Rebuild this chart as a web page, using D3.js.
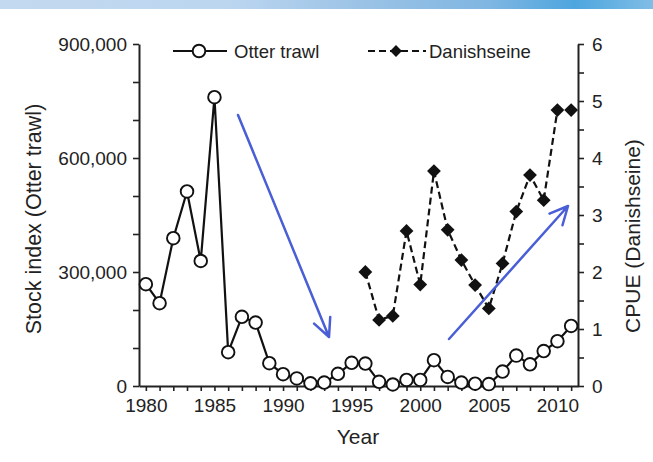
<!DOCTYPE html>
<html>

<head>
  <meta charset="utf-8">
  <script src="https://d3js.org/d3.v7.min.js"></script>
  <style>
    body { margin: 0; background: #fff; }
    svg { display: block; font-family: "Liberation Sans", Arial, sans-serif; }
  </style>
</head>

<body>
  <svg width="653" height="462"></svg>
  <script>
    // data
    const years = d3.range(1980, 2012);
    const otterTrawl = [268000, 218000, 389000, 512000, 329000, 760000, 89000, 182000, 167000, 60000,
      31000, 20000, 7000, 9000, 32000, 61000, 59000, 11000, 4000, 16000,
      16000, 68000, 24000, 9000, 6000, 5000, 38000, 80000, 57000, 92000,
      118000, 158000];
    const seineYears = d3.range(1996, 2012);
    const danishSeine = [2.0, 1.16, 1.23, 2.72, 1.78, 3.77, 2.74, 2.21, 1.77, 1.36, 2.15, 3.06, 3.7, 3.26, 4.84, 4.84];
    const leftTicks = [0, 300000, 600000, 900000];
    const rightTicks = [0, 1, 2, 3, 4, 5, 6];
    const xTickLabels = [1980, 1985, 1990, 1995, 2000, 2005, 2010];

    const svg = d3.select("svg");

    // blue strip at the top of the slide
    const grad = svg.append("defs").append("linearGradient").attr("id", "band");
    [["0%", "#c3d9ef"], ["35%", "#bcd6f0"], ["55%", "#9cc3e6"], ["75%", "#7fb6e2"], ["88%", "#4ea6df"], ["100%", "#80bde6"]]
      .forEach(s => grad.append("stop").attr("offset", s[0]).attr("stop-color", s[1]));
    svg.append("rect").attr("x", 0).attr("y", 0).attr("width", 653).attr("height", 9).attr("fill", "url(#band)");

    const x = d3.scaleLinear().domain([1979.5, 2011.5]).range([139, 578]);
    const yL = d3.scaleLinear().domain([0, 900000]).range([386, 44]);
    const yR = d3.scaleLinear().domain([0, 6]).range([386, 44]);

    const fmt = d3.format(",");

    // axes
    const gx = svg.append("g").attr("transform", "translate(0,386)")
      .call(d3.axisBottom(x).tickValues(years).tickSize(5).tickSizeOuter(0)
        .tickFormat(d => xTickLabels.includes(d) ? d : ""));
    const gl = svg.append("g").attr("transform", "translate(139,0)")
      .call(d3.axisLeft(yL).tickValues(d3.range(0, 900001, 100000)).tickSize(6).tickSizeOuter(0)
        .tickFormat(d => leftTicks.includes(d) ? fmt(d) : ""));
    const gr = svg.append("g").attr("transform", "translate(578,0)")
      .call(d3.axisRight(yR).tickValues(d3.range(0, 6.01, 0.5)).tickSize(6).tickSizeOuter(0)
        .tickFormat(d => rightTicks.includes(d) ? d : ""));

    [gx, gl, gr].forEach(g => {
      g.select(".domain").attr("stroke", "#222").attr("stroke-width", 2);
      g.selectAll(".tick line").attr("stroke", "#222").attr("stroke-width", 1.6);
      g.selectAll("text").attr("fill", "#222").style("font-size", "19px");
    });
    gx.selectAll("text").attr("dy", "0.95em");
    gl.selectAll("text").attr("x", -12);
    gr.selectAll("text").attr("x", 14);

    // axis titles
    svg.append("text").attr("x", 358).attr("y", 444).attr("text-anchor", "middle")
      .style("font-size", "21px").attr("fill", "#222").text("Year");
    svg.append("text").attr("transform", "translate(41,219) rotate(-90)").attr("text-anchor", "middle")
      .style("font-size", "21.5px").attr("fill", "#222").text("Stock index (Otter trawl)");
    svg.append("text").attr("transform", "translate(640,236) rotate(-90)").attr("text-anchor", "middle")
      .style("font-size", "21px").attr("fill", "#222").text("CPUE (Danishseine)");

    // Danish seine (right axis)
    const seine = seineYears.map((yr, i) => ({ yr, v: danishSeine[i] }));
    svg.append("path").datum(seine)
      .attr("fill", "none").attr("stroke", "#111").attr("stroke-width", 2.2)
      .attr("stroke-dasharray", "7,4")
      .attr("d", d3.line().x(d => x(d.yr)).y(d => yR(d.v)));
    svg.append("g").selectAll("path").data(seine).join("path")
      .attr("transform", d => `translate(${x(d.yr)},${yR(d.v)}) rotate(45)`)
      .attr("d", d3.symbol().type(d3.symbolSquare).size(95))
      .attr("fill", "#111");

    // Otter trawl (left axis)
    const otter = years.map((yr, i) => ({ yr, v: otterTrawl[i] }));
    svg.append("path").datum(otter)
      .attr("fill", "none").attr("stroke", "#111").attr("stroke-width", 2.2)
      .attr("d", d3.line().x(d => x(d.yr)).y(d => yL(d.v)));
    svg.append("g").selectAll("circle").data(otter).join("circle")
      .attr("cx", d => x(d.yr)).attr("cy", d => yL(d.v)).attr("r", 6.3)
      .attr("fill", "#fff").attr("stroke", "#111").attr("stroke-width", 1.9);

    // legend
    const leg = svg.append("g");
    leg.append("line").attr("x1", 173).attr("x2", 227).attr("y1", 51).attr("y2", 51)
      .attr("stroke", "#111").attr("stroke-width", 2.2);
    leg.append("circle").attr("cx", 199).attr("cy", 51).attr("r", 6.3)
      .attr("fill", "#fff").attr("stroke", "#111").attr("stroke-width", 1.9);
    leg.append("text").attr("x", 234).attr("y", 58).style("font-size", "18.5px").attr("fill", "#222").text("Otter trawl");
    leg.append("line").attr("x1", 368).attr("x2", 426).attr("y1", 51).attr("y2", 51)
      .attr("stroke", "#111").attr("stroke-width", 2.2).attr("stroke-dasharray", "7,4");
    leg.append("path").attr("transform", "translate(396,51) rotate(45)")
      .attr("d", d3.symbol().type(d3.symbolSquare).size(70)).attr("fill", "#111");
    leg.append("text").attr("x", 429).attr("y", 58).style("font-size", "18.5px").attr("fill", "#222").text("Danishseine");

    // blue trend arrows drawn over the chart
    const arrows = [
      { from: [238, 115], to: [329, 337] },
      { from: [449, 339], to: [568, 206] }
    ];
    arrows.forEach(a => {
      const ang = Math.atan2(a.to[1] - a.from[1], a.to[0] - a.from[0]);
      const len = 20, spread = 0.45;
      const p1 = [a.to[0] - len * Math.cos(ang - spread), a.to[1] - len * Math.sin(ang - spread)];
      const p2 = [a.to[0] - len * Math.cos(ang + spread), a.to[1] - len * Math.sin(ang + spread)];
      svg.append("path")
        .attr("d", `M${a.from}L${a.to}M${p1}L${a.to}L${p2}`)
        .attr("fill", "none").attr("stroke", "#4a5ed6").attr("stroke-width", 2.5)
        .attr("stroke-linecap", "round").attr("stroke-linejoin", "round");
    });
  </script>
</body>

</html>
